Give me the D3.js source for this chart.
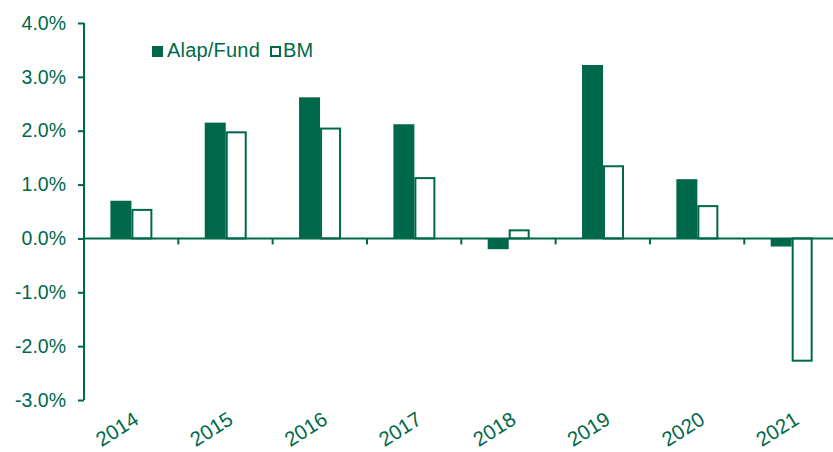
<!DOCTYPE html>
<html>
<head>
<meta charset="utf-8">
<script src="https://cdn.jsdelivr.net/npm/d3@7"></script>
<style>
body { margin: 0; background: #fff; }
text { font-family: "Liberation Sans", Arial, sans-serif; fill: #00684A; }
</style>
</head>
<body>
<script>
var years = ["2014", "2015", "2016", "2017", "2018", "2019", "2020", "2021"];
var fund = [0.70, 2.15, 2.62, 2.12, -0.20, 3.22, 1.10, -0.15];
var bm = [0.53, 1.97, 2.04, 1.12, 0.15, 1.34, 0.60, -2.27];
var yTicks = [-3, -2, -1, 0, 1, 2, 3, 4];
var seriesNames = ["Alap/Fund", "BM"];

var w = 833, h = 452;
var green = "#00684A";
var fs = "19.5px";

var svg = d3.select("body").append("svg")
    .attr("width", w)
    .attr("height", h);

var x = d3.scaleBand()
    .domain(years)
    .range([84, 838.6]);

var x1 = d3.scaleBand()
    .domain(["fund", "bm"])
    .range([x.bandwidth() * 0.28, x.bandwidth() * 0.725]);

var y = d3.scaleLinear()
    .domain([-3, 4])
    .range([400, 23]);

var rows = years.map(function(d, i){
    return {year: d, fund: fund[i], bm: bm[i]};
});

// fund bars
svg.selectAll("rect.fund")
    .data(rows)
    .enter()
    .append("rect")
    .attr("class", "fund")
    .attr("x", function(d){ return x(d.year) + x1("fund"); })
    .attr("width", x1.bandwidth())
    .attr("y", function(d){ return y(Math.max(0, d.fund)); })
    .attr("height", function(d){ return Math.abs(y(d.fund) - y(0)); })
    .attr("fill", green);

// benchmark bars (outlined)
svg.selectAll("rect.bm")
    .data(rows)
    .enter()
    .append("rect")
    .attr("class", "bm")
    .attr("x", function(d){ return x(d.year) + x1("bm") + 1; })
    .attr("width", x1.bandwidth() - 2)
    .attr("y", function(d){ return y(Math.max(0, d.bm)); })
    .attr("height", function(d){ return Math.abs(y(d.bm) - y(0)); })
    .attr("fill", "#fff")
    .attr("stroke", green)
    .attr("stroke-width", 2);

// y axis
var yAxis = d3.axisLeft(y)
    .tickValues(yTicks)
    .tickSize(6)
    .tickPadding(12)
    .tickFormat(function(d){ return d.toFixed(1) + "%"; });

var gy = svg.append("g")
    .attr("transform", "translate(84,0)")
    .call(yAxis);
gy.select(".domain").remove();
gy.selectAll(".tick line").attr("stroke", green).attr("stroke-width", 2);
gy.selectAll(".tick text")
    .style("font-size", fs)
    .attr("fill", green);
gy.append("line")
    .attr("x1", 0).attr("x2", 0)
    .attr("y1", y(4)).attr("y2", y(-3))
    .attr("stroke", green)
    .attr("stroke-width", 2);

// zero line with ticks between categories
svg.append("line")
    .attr("x1", 84).attr("x2", w)
    .attr("y1", y(0)).attr("y2", y(0))
    .attr("stroke", green)
    .attr("stroke-width", 2);

svg.selectAll("line.xt")
    .data(years.slice(1))
    .enter()
    .append("line")
    .attr("class", "xt")
    .attr("x1", function(d){ return x(d); })
    .attr("x2", function(d){ return x(d); })
    .attr("y1", y(0))
    .attr("y2", y(0) + 6)
    .attr("stroke", green)
    .attr("stroke-width", 2);

// x labels
svg.selectAll("text.xl")
    .data(years)
    .enter()
    .append("text")
    .attr("class", "xl")
    .attr("text-anchor", "end")
    .style("font-size", "20.5px")
    .attr("transform", function(d){
        return "translate(" + (x(d) + x.bandwidth() / 2 + 9) + ",423) rotate(-32)";
    })
    .text(function(d){ return d; });

// legend
var legX = [152, 270];
var leg = svg.selectAll("g.leg")
    .data(seriesNames)
    .enter()
    .append("g")
    .attr("class", "leg")
    .attr("transform", function(d, i){ return "translate(" + legX[i] + ",46)"; });
leg.append("rect")
    .attr("x", function(d, i){ return i ? 1 : 0; })
    .attr("y", function(d, i){ return i ? 1 : 0; })
    .attr("width", function(d, i){ return i ? 9 : 11; })
    .attr("height", function(d, i){ return i ? 9 : 11; })
    .attr("fill", function(d, i){ return i ? "#fff" : green; })
    .attr("stroke", function(d, i){ return i ? green : "none"; })
    .attr("stroke-width", 2);
leg.append("text")
    .attr("x", function(d, i){ return i ? 13 : 15; })
    .attr("y", 11)
    .style("font-size", "20px")
    .style("letter-spacing", "0.2px")
    .text(function(d){ return d; });
</script>
</body>
</html>
